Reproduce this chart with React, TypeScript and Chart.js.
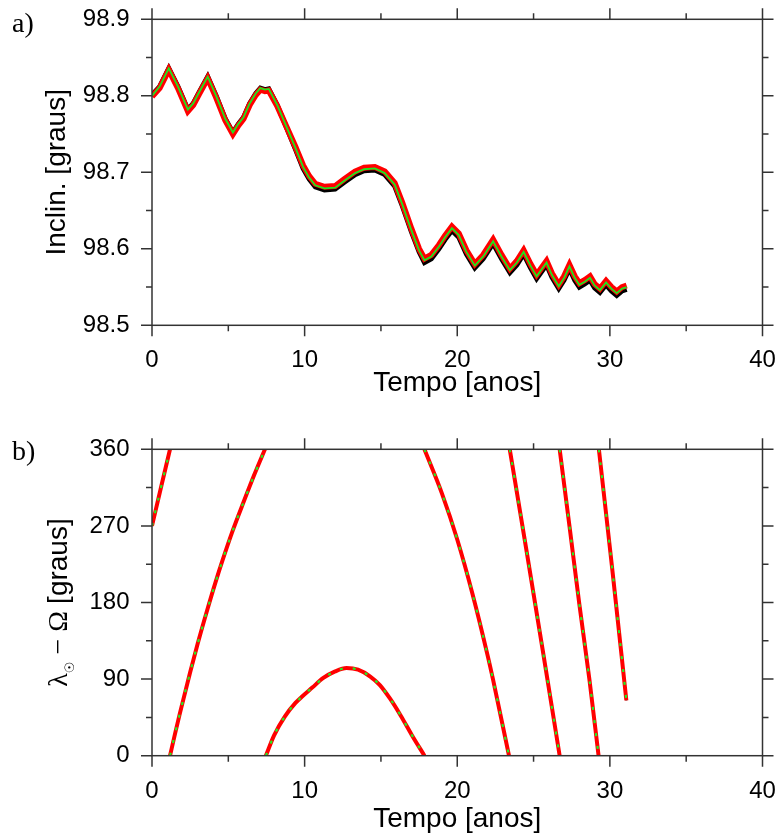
import React, { useEffect, useRef } from 'react';
import { Chart, registerables } from 'chart.js';

Chart.register(...registerables);

// ---- tick values ----
const timeTicks = [0, 10, 20, 30, 40];
const timeMinorTicks = [5, 15, 25, 35];
const inclTicks = [98.5, 98.6, 98.7, 98.8, 98.9];
const inclMinorTicks = [98.55, 98.65, 98.75, 98.85];
const angleTicks = [0, 90, 180, 270, 360];
const angleMinorTicks = [45, 135, 225, 315];

// ---- panel a) inclination ----
const inclTime = [0, 0.5, 1.1, 1.7, 2.35, 2.7, 3.1, 3.65, 4.2, 4.8, 5.3, 5.65, 6.0, 6.4, 6.8, 7.1, 7.4, 7.65, 8.2, 8.8, 9.4, 9.9, 10.3, 10.7, 11.3, 12.0, 12.6, 13.3, 13.9, 14.6, 15.25, 15.9, 16.4, 17.0, 17.5, 17.85, 18.3, 18.8, 19.2, 19.65, 20.1, 20.6, 21.15, 21.7, 22.35, 22.9, 23.45, 23.9, 24.35, 24.8, 25.2, 25.85, 26.2, 26.65, 27.0, 27.35, 27.7, 28.0, 28.35, 28.7, 29.0, 29.35, 29.75, 30.1, 30.45, 30.8, 31.1];
const inclGreen = [98.800, 98.812, 98.836, 98.812, 98.782, 98.790, 98.805, 98.825, 98.800, 98.770, 98.752, 98.763, 98.772, 98.790, 98.803, 98.810, 98.808, 98.809, 98.788, 98.760, 98.732, 98.707, 98.693, 98.683, 98.679, 98.680, 98.689, 98.699, 98.704, 98.705, 98.699, 98.684, 98.658, 98.624, 98.598, 98.585, 98.590, 98.603, 98.615, 98.627, 98.618, 98.596, 98.578, 98.590, 98.610, 98.590, 98.572, 98.582, 98.596, 98.578, 98.564, 98.582, 98.566, 98.551, 98.562, 98.577, 98.562, 98.553, 98.557, 98.562, 98.552, 98.546, 98.556, 98.548, 98.542, 98.548, 98.550];
const inclRed = [98.799, 98.810, 98.834, 98.810, 98.780, 98.788, 98.803, 98.823, 98.798, 98.768, 98.750, 98.761, 98.770, 98.788, 98.801, 98.808, 98.806, 98.807, 98.787, 98.760, 98.733, 98.709, 98.695, 98.685, 98.681, 98.682, 98.691, 98.701, 98.706, 98.707, 98.701, 98.686, 98.660, 98.626, 98.600, 98.587, 98.592, 98.605, 98.617, 98.629, 98.620, 98.598, 98.580, 98.592, 98.612, 98.592, 98.574, 98.584, 98.598, 98.580, 98.566, 98.584, 98.568, 98.553, 98.564, 98.579, 98.564, 98.555, 98.559, 98.564, 98.554, 98.548, 98.558, 98.550, 98.544, 98.550, 98.552];
const inclBlack = [98.801, 98.812, 98.836, 98.812, 98.782, 98.790, 98.805, 98.825, 98.800, 98.770, 98.752, 98.763, 98.772, 98.790, 98.803, 98.810, 98.808, 98.809, 98.788, 98.759, 98.730, 98.705, 98.691, 98.681, 98.677, 98.678, 98.687, 98.697, 98.702, 98.703, 98.697, 98.682, 98.656, 98.622, 98.596, 98.582, 98.587, 98.600, 98.612, 98.624, 98.615, 98.593, 98.575, 98.587, 98.607, 98.587, 98.569, 98.579, 98.593, 98.575, 98.561, 98.579, 98.563, 98.548, 98.559, 98.574, 98.559, 98.550, 98.554, 98.559, 98.549, 98.543, 98.553, 98.545, 98.539, 98.545, 98.547];

// ---- panel b) lambda_sun - Omega (null = wrap-around gap) ----
const angleTime = [0, 0.6, 1.18, 1.18, 1.18, 1.5, 1.83, 2.5, 3.0, 3.6, 4.2, 4.63, 5.3, 6.0, 6.7, 7.4, 7.4, 7.46, 8.0, 8.7, 9.4, 9.8, 10.5, 11.2, 12.0, 12.75, 13.5, 14.3, 14.93, 15.6, 16.3, 17.0, 17.85, 17.85, 17.85, 19.0, 20.0, 21.0, 22.0, 22.35, 23.39, 23.4, 23.44, 24.5, 25.6, 26.71, 26.71, 26.71, 27.4, 28.0, 28.67, 29.26, 29.27, 29.28, 30.2, 31.08];
const angleValues = [270, 316, 360, null, 0, 25, 50, 98, 132, 170, 206, 230, 265, 298, 330, 360, null, 0, 24, 46, 62, 69, 80, 91, 99, 103, 101, 93, 83, 67, 47, 25, 0, null, 360, 308, 254, 190, 117, 89, 0, null, 360, 245, 124, 0, null, 360, 263, 178, 88, 0, null, 360, 212, 65];

const SANS = '"Liberation Sans", Arial, sans-serif';
const SERIF = '"Liberation Serif", "Times New Roman", serif';
const AXIS_COLOR = '#333333';

const framePlugin = {
  id: 'frame',
  afterDatasetsDraw(chart: any, _args: any, opts: any) {
    const { ctx, chartArea: a, scales } = chart;
    const xs = scales.x;
    const ys = scales.y;
    const major = 11;
    const minor = 6;
    ctx.save();
    ctx.strokeStyle = AXIS_COLOR;
    ctx.lineWidth = 1.5;
    ctx.strokeRect(a.left, a.top, a.right - a.left, a.bottom - a.top);
    ctx.beginPath();
    const xt = (vals: number[], len: number) => {
      vals.forEach((v) => {
        const p = xs.getPixelForValue(v);
        ctx.moveTo(p, a.bottom);
        ctx.lineTo(p, a.bottom + len);
        ctx.moveTo(p, a.top);
        ctx.lineTo(p, a.top - len);
      });
    };
    const yt = (vals: number[], len: number) => {
      vals.forEach((v) => {
        const p = ys.getPixelForValue(v);
        ctx.moveTo(a.left, p);
        ctx.lineTo(a.left - len, p);
        ctx.moveTo(a.right, p);
        ctx.lineTo(a.right + len, p);
      });
    };
    xt(opts.xMajor, major);
    xt(opts.xMinor, minor);
    yt(opts.yMajor, major);
    yt(opts.yMinor, minor);
    ctx.stroke();

    ctx.fillStyle = '#000';
    ctx.textBaseline = 'alphabetic';
    ctx.textAlign = 'left';
    ctx.font = `28px ${SERIF}`;
    ctx.fillText(opts.label, 12, opts.labelY);

    if (opts.yTitleParts) {
      ctx.translate(opts.yTitleX, (a.top + a.bottom) / 2);
      ctx.rotate(-Math.PI / 2);
      let total = 0;
      opts.yTitleParts.forEach((p: any) => {
        ctx.font = p.font;
        total += ctx.measureText(p.text).width;
      });
      let x = -total / 2;
      opts.yTitleParts.forEach((p: any) => {
        ctx.font = p.font;
        ctx.fillText(p.text, x, p.dy);
        x += ctx.measureText(p.text).width;
      });
    }
    ctx.restore();
  },
};

const zeroPad = (s: any) => {
  s.paddingTop = 0;
  s.paddingBottom = 0;
  s.paddingLeft = 0;
  s.paddingRight = 0;
};

function baseScales(yMin: number, yMax: number, yTicks: number[], yFmt: (v: number) => string, xHeight: number, xTitlePad: number, yTitle: string | null) {
  return {
    x: {
      type: 'linear',
      min: 0,
      max: 40,
      afterBuildTicks: (s: any) => {
        s.ticks = timeTicks.map((v) => ({ value: v }));
      },
      afterFit: (s: any) => {
        s.height = xHeight;
        zeroPad(s);
      },
      grid: { display: false, drawTicks: false },
      border: { display: false },
      ticks: { font: { family: SANS, size: 24 }, color: '#000', padding: 21, maxRotation: 0, autoSkip: false },
      title: { display: true, text: 'Tempo [anos]', color: '#000', font: { family: SANS, size: 28 }, padding: { top: 0, bottom: xTitlePad } },
    },
    y: {
      type: 'linear',
      min: yMin,
      max: yMax,
      afterBuildTicks: (s: any) => {
        s.ticks = yTicks.map((v) => ({ value: v }));
      },
      afterFit: (s: any) => {
        s.width = 152;
        zeroPad(s);
      },
      grid: { display: false, drawTicks: false },
      border: { display: false },
      ticks: { font: { family: SANS, size: 24 }, color: '#000', padding: 22.5, autoSkip: false, callback: (v: any) => yFmt(Number(v)) },
      title: { display: !!yTitle, text: yTitle || '', color: '#000', font: { family: SANS, size: 28 }, padding: { top: 40, bottom: 0 } },
    },
  };
}

function InclChart() {
  const ref = useRef<HTMLCanvasElement | null>(null);
  useEffect(() => {
    if (!ref.current) return;
    const pts = (ys: number[]) => inclTime.map((t, i) => ({ x: t, y: ys[i] }));
    const chart = new Chart(ref.current, {
      type: 'line',
      data: {
        datasets: [
          { data: pts(inclGreen), borderColor: '#1ee61e', borderWidth: 1.8, pointRadius: 0, tension: 0 },
          { data: pts(inclRed), borderColor: '#ff0000', borderWidth: 6, pointRadius: 0, tension: 0 },
          { data: pts(inclBlack), borderColor: '#000000', borderWidth: 5, pointRadius: 0, tension: 0 },
        ],
      },
      options: {
        responsive: false,
        animation: false,
        devicePixelRatio: 1,
        layout: { padding: { left: 0, right: 16.5, top: 19.3, bottom: 0 } },
        plugins: {
          legend: { display: false },
          tooltip: { enabled: false },
          frame: { xMajor: timeTicks, xMinor: timeMinorTicks, yMajor: inclTicks, yMinor: inclMinorTicks, label: 'a)', labelY: 31.5 },
        } as any,
        scales: baseScales(98.5, 98.9, inclTicks, (v) => v.toFixed(1), 94.7, 19.9, 'Inclin. [graus]') as any,
      },
      plugins: [framePlugin],
    });
    return () => chart.destroy();
  }, []);
  return <canvas ref={ref} width={779} height={420} style={{ position: 'absolute', left: 0, top: 0, width: 779, height: 420 }} />;
}

function AngleChart() {
  const ref = useRef<HTMLCanvasElement | null>(null);
  useEffect(() => {
    if (!ref.current) return;
    const pts = angleTime.map((t, i) => ({ x: t, y: angleValues[i] }));
    const chart = new Chart(ref.current, {
      type: 'line',
      data: {
        datasets: [
          { data: pts, borderColor: '#22ee22', borderWidth: 2.2, borderDash: [3, 10], pointRadius: 0, cubicInterpolationMode: 'monotone' },
          { data: pts, borderColor: '#ff0000', borderWidth: 4, pointRadius: 0, cubicInterpolationMode: 'monotone' },
          { data: pts, borderColor: '#000000', borderWidth: 2, pointRadius: 0, cubicInterpolationMode: 'monotone' },
        ],
      },
      options: {
        responsive: false,
        animation: false,
        devicePixelRatio: 1,
        layout: { padding: { left: 0, right: 16.5, top: 29.3, bottom: 0 } },
        plugins: {
          legend: { display: false },
          tooltip: { enabled: false },
          frame: {
            xMajor: timeTicks,
            xMinor: timeMinorTicks,
            yMajor: angleTicks,
            yMinor: angleMinorTicks,
            label: 'b)',
            labelY: 39.5,
            yTitleX: 67,
            yTitleParts: [
              { text: 'λ', font: `28px ${SERIF}`, dy: 0 },
              { text: '☉', font: '13px "DejaVu Sans"', dy: 7 },
              { text: ' − Ω ', font: `28px ${SERIF}`, dy: 0 },
              { text: '[graus]', font: `28px ${SANS}`, dy: 0 },
            ],
          },
        } as any,
        scales: baseScales(0, 360, angleTicks, (v) => String(Math.round(v)), 81.3, 0.9, null) as any,
      },
      plugins: [framePlugin],
    });
    return () => chart.destroy();
  }, []);
  return <canvas ref={ref} width={779} height={417} style={{ position: 'absolute', left: 0, top: 420, width: 779, height: 417 }} />;
}

export default function App() {
  return (
    <div style={{ position: 'absolute', left: 0, top: 0, width: 779, height: 837, background: '#ffffff', overflow: 'hidden' }}>
      <InclChart />
      <AngleChart />
    </div>
  );
}
